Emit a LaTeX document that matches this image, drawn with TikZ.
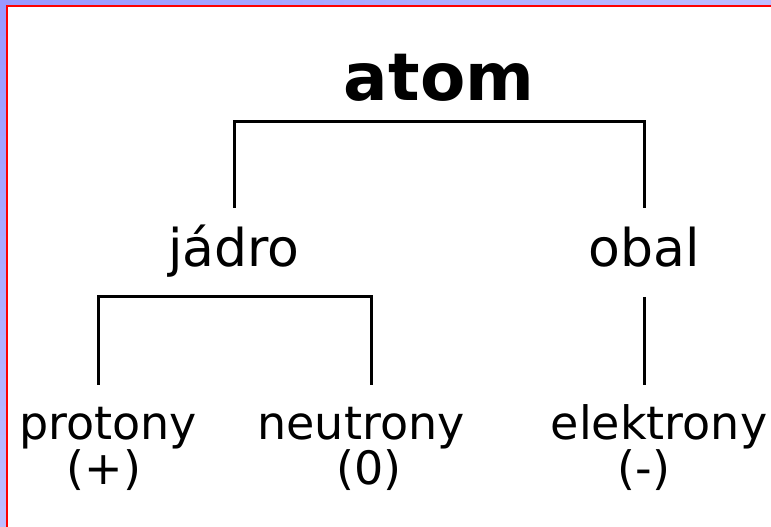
\documentclass[tikz,border=0pt]{standalone}
\usepackage{fontspec}
\setmainfont{DejaVu Sans}
\usetikzlibrary{positioning}
\definecolor{frameblue}{RGB}{153,153,255}
\definecolor{frameblueb}{RGB}{190,190,255}

\begin{document}
\begin{tikzpicture}[x=1pt,y=1pt,
  toplabel/.style={font=\fontsize{66}{66}\selectfont\bfseries, inner sep=0pt, anchor=base},
  midlabel/.style={font=\fontsize{52}{52}\selectfont, inner sep=0pt, anchor=base, text height=39.5pt},
  lowlabel/.style={font=\fontsize{46}{46}\selectfont, inner sep=0pt, anchor=base, text height=35pt},
  branch/.style={line width=3pt, shorten <=#1, shorten >=#1}]
\useasboundingbox (0,0) rectangle (771,527);
\fill[white] (0,0) rectangle (771,527);
\shade[top color=frameblue, bottom color=frameblueb] (0,0) rectangle (6,527);
\shade[left color=frameblue, right color=frameblueb] (0,521) rectangle (771,527);
\draw[red, line width=2pt] (7,0) -- (7,521) -- (771,521);
\coordinate (fork1) at (439,405);
\coordinate (forkL) at (98,230);
\coordinate (forkR) at (371,230);
\node[toplabel] (atom) at (439,426) {atom};
\node[midlabel] (jadro) at (234,260) {jádro};
\node[midlabel] (obal) at (644,260) {obal};
\node[lowlabel] (protony) at (108,87) {protony};
\node[lowlabel] (neutrony) at (361,87) {neutrony};
\node[lowlabel] (elektrony) at (659,87) {elektrony};
\node[lowlabel] (plus) at (104,42) {(+)};
\node[lowlabel] (nula) at (369,42) {(0)};
\node[lowlabel] (minus) at (644,42) {(-)};
\draw[branch=19.5pt] (jadro.north) |- (fork1) -| (obal.north);
\draw[branch=20pt] (protony.north -| forkL) |- (forkR) -- (forkR |- neutrony.north);
\draw[line width=3pt, shorten <=29pt, shorten >=20pt] (obal.south) -- (obal.south |- elektrony.north);
\end{tikzpicture}
\end{document}
